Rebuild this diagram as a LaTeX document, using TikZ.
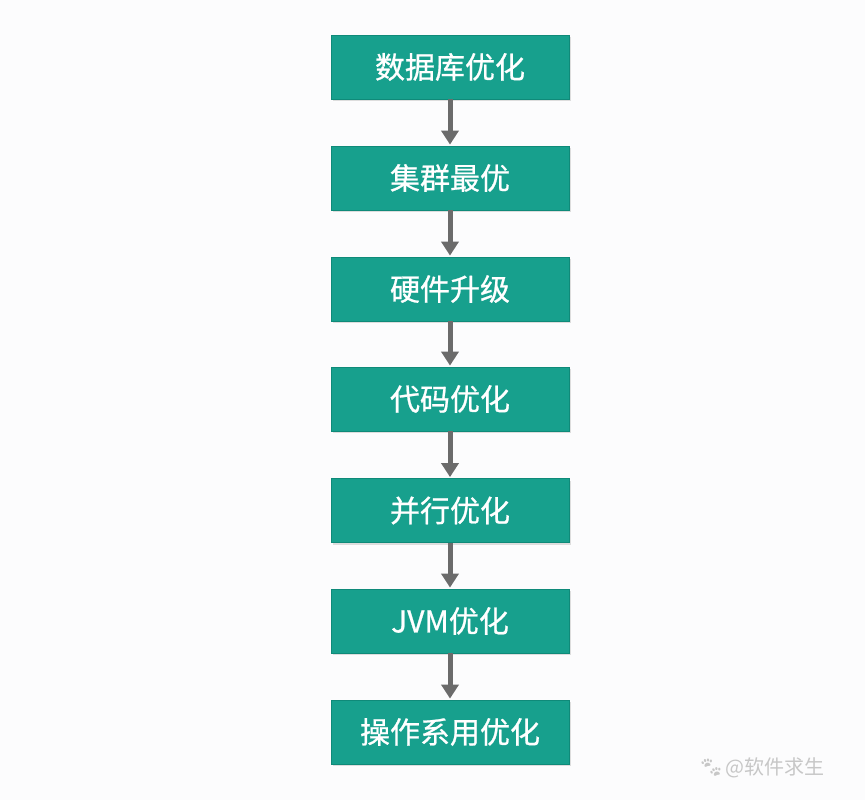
\documentclass[tikz,border=0pt]{standalone}
\usepackage{fontspec}
\setmainfont{Noto Sans CJK SC}
\newfontfamily\cjk{Noto Sans CJK SC}
\newfontfamily\cjkb[FakeBold=0.8]{Noto Sans CJK SC}
\newfontfamily\emoji{Noto Emoji}
\usetikzlibrary{arrows.meta,shadows}
\definecolor{teal1}{HTML}{17A08D}
\definecolor{tealborder}{HTML}{0F8A79}
\definecolor{arrowgray}{HTML}{6B6B6B}
\definecolor{bgc}{HTML}{FCFCFD}
\tikzset{
  stepbox/.style={rectangle, fill=teal1, draw=tealborder, line width=0.8pt,
    minimum width=238pt, minimum height=64pt, inner sep=0pt,
    text=white, font=\cjkb\fontsize{30}{34}\selectfont,
    drop shadow={shadow xshift=1.5pt, shadow yshift=-2pt, fill=black!25}},
  flow/.style={draw=arrowgray, line width=5pt,
    -{Triangle[width=17pt,length=14pt]}, shorten >=1pt}
}
\begin{document}
\begin{tikzpicture}[x=1pt,y=-1pt]
\fill[bgc] (0,0) rectangle (865,800);
\useasboundingbox (0,0) rectangle (865,800);
\node[stepbox] (n1) at (450,67) {数据库优化};
\node[stepbox] (n2) at (450,178) {集群最优};
\node[stepbox] (n3) at (450,289) {硬件升级};
\node[stepbox] (n4) at (450,399) {代码优化};
\node[stepbox] (n5) at (450,510.5) {并行优化};
\node[stepbox] (n6) at (450,621) {JVM优化};
\node[stepbox] (n7) at (450,732) {操作系用优化};
\foreach \a/\b in {n1/n2,n2/n3,n3/n4,n4/n5,n5/n6,n6/n7}
  \draw[flow] (\a.south) -- (\b.north);
\node[text=black!22, font=\cjk\fontsize{20}{24}\selectfont, anchor=west, inner sep=0pt] (wm) at (725,768) {@软件求生};
\node[text=black!22, font=\emoji\fontsize{20}{22}\selectfont, anchor=east, inner sep=1pt] (paw) at (wm.west) {🐾};
\end{tikzpicture}
\end{document}
